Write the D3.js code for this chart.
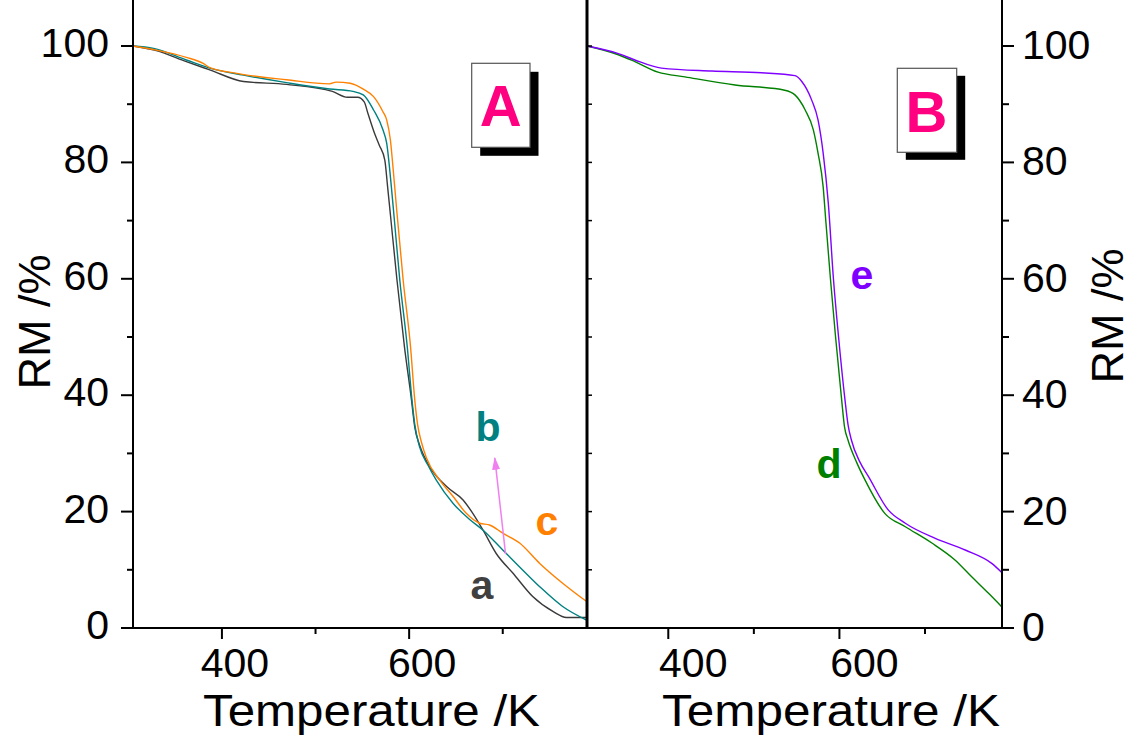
<!DOCTYPE html>
<html><head><meta charset="utf-8">
<script src="https://cdn.jsdelivr.net/npm/d3@7"></script>
<style>body{margin:0;background:#fff}svg{display:block;font-family:"Liberation Sans",Arial,sans-serif}</style>
</head><body>
<script>
// ---- data ----
const tA = [305,330,362,387,423,469,518,534,545,552,556,563,568,574,577,580,587,595,602.5,606,611,616,622,640,657.6,668,679,693,711,732,754,768,789];
const rmA = [100,99.2,97.3,95.9,93.9,93.4,92.2,91.2,91.2,90.4,88.4,85.0,83.0,80.4,75.8,71,59.8,48.3,39.2,34.5,31.5,29.5,27.7,24.3,22.0,19.7,16.8,12.8,9.4,5.4,2.8,1.8,1.8];
const tB = [305,327,362,387,423,469,515,540,551,562,572,576,581,584,590,598,603,606,611,620,629,647,665,679,700,718,739.5,764,789];
const rmB = [100,99.6,97.6,96.2,95.0,93.7,92.6,92.2,91.6,89.0,85.6,83.3,75.8,70.5,59.8,48.3,39.2,35,31.2,28,25.4,21.4,18.6,16.8,13.4,10.5,7.1,3.7,1.4];
const tC = [305,330,362,380,387,416,469,515,522,537,551,562,572,576,580,583,587,593.6,601.5,606,609,613,618.5,632.7,647,661,675.4,686,700,718,739.5,764,790];
const rmC = [100,99.3,98.05,97.0,96.3,95.3,94.2,93.5,93.8,93.6,92.6,91.3,88.7,87.3,83.8,78.7,71.3,59.8,48.3,39.2,35,32,29.2,25.4,22.6,19.7,18.0,17.7,16.3,14.6,11.1,7.7,4.5];
const tD = [305,341.6,361,388,419.5,478,536,548,560,569.5,575,581,584,589.5,595.5,602.6,606,610,620,630,653,677,708,735,754.6,774,790];
const rmD = [100,98.5,97.3,95.5,94.7,93.3,92.4,91.6,89.0,85.6,81.6,75.8,70.1,60,50,39.2,34.5,32.3,28.5,25.4,19.7,17.4,14.6,11.7,8.8,6.0,3.6];
const tE = [305,341.6,361,392,451,509,548,556,567.6,575,581,587,593,599,606.5,610,614,624,634,657,677,712,747,778,790];
const rmE = [100,98.7,97.6,96.2,95.7,95.4,94.9,93.9,90.7,87.3,81.6,73.0,60,50,39.2,35,32.3,28.5,26.0,20.3,18.0,15.4,13.4,11.1,9.5];
const seriesNames = ["a","b","c","d","e"];
const seriesColors = ["#3a3a3a","#008080","#ff8000","#008000","#8000ff"];
const xTicks = [400,600];
const xMinorTicks = [500,700];
const yTicks = [0,20,40,60,80,100];
const yMinorTicks = [10,30,50,70,90];
const xDomain = [305,790];
const yDomain = [0,100];

// ---- layout ----
const W=1133,H=736;
const svg=d3.select("body").append("svg").attr("width",W).attr("height",H);
const y=d3.scaleLinear().domain(yDomain).range([628,46]);
const xA=d3.scaleLinear().domain(xDomain).range([133,587]);
const xB=d3.scaleLinear().domain(xDomain).range([587,1002]);
const yTop=0, yBot=628;

function drawLine(xs, ts, vals, color){
  const pts=ts.map((t,i)=>[t,vals[i]]);
  svg.append("path").datum(pts)
    .attr("fill","none").attr("stroke",color).attr("stroke-width",1.4)
    .attr("d",d3.line().x(d=>xs(d[0])).y(d=>y(d[1])).curve(d3.curveMonotoneX));
}
drawLine(xA,tA,rmA,seriesColors[0]);
drawLine(xA,tB,rmB,seriesColors[1]);
drawLine(xA,tC,rmC,seriesColors[2]);
drawLine(xB,tD,rmD,seriesColors[3]);
drawLine(xB,tE,rmE,seriesColors[4]);

// axes lines
const ax=svg.append("g").attr("stroke","#000").attr("fill","none");
ax.append("line").attr("x1",133).attr("x2",133).attr("y1",yTop).attr("y2",yBot+1).attr("stroke-width",2);
ax.append("line").attr("x1",587).attr("x2",587).attr("y1",yTop).attr("y2",yBot+1).attr("stroke-width",3);
ax.append("line").attr("x1",1002).attr("x2",1002).attr("y1",yTop).attr("y2",yBot+1).attr("stroke-width",2);
ax.append("line").attr("x1",132).attr("x2",1003).attr("y1",yBot).attr("y2",yBot).attr("stroke-width",2);

// y ticks
yTicks.forEach(v=>{
  ax.append("line").attr("x1",121).attr("x2",133).attr("y1",y(v)).attr("y2",y(v)).attr("stroke-width",2);
  ax.append("line").attr("x1",1002).attr("x2",1014).attr("y1",y(v)).attr("y2",y(v)).attr("stroke-width",2);
  ax.append("line").attr("x1",587).attr("x2",592).attr("y1",y(v)).attr("y2",y(v)).attr("stroke-width",1.5);
  svg.append("text").attr("x",109).attr("y",y(v)+11).attr("text-anchor","end").attr("font-size",41).text(v);
  svg.append("text").attr("x",1022).attr("y",y(v)+13).attr("text-anchor","start").attr("font-size",41).text(v);
});
yMinorTicks.forEach(v=>{
  ax.append("line").attr("x1",127).attr("x2",133).attr("y1",y(v)).attr("y2",y(v)).attr("stroke-width",2);
  ax.append("line").attr("x1",1002).attr("x2",1009).attr("y1",y(v)).attr("y2",y(v)).attr("stroke-width",2);
  ax.append("line").attr("x1",587).attr("x2",592).attr("y1",y(v)).attr("y2",y(v)).attr("stroke-width",1.5);
});
// x ticks
[[xA,13],[xB,25]].forEach(([xs,off])=>{
  xTicks.forEach(v=>{
    ax.append("line").attr("x1",xs(v)).attr("x2",xs(v)).attr("y1",yBot).attr("y2",yBot+11).attr("stroke-width",2);
    svg.append("text").attr("x",xs(v)+off).attr("y",677).attr("text-anchor","middle").attr("font-size",41).text(v);
  });
  xMinorTicks.forEach(v=>{
    ax.append("line").attr("x1",xs(v)).attr("x2",xs(v)).attr("y1",yBot).attr("y2",yBot+6).attr("stroke-width",2);
  });
});
// axis titles
svg.append("text").attr("x",203).attr("y",726).attr("font-size",44).attr("textLength",337).attr("lengthAdjust","spacingAndGlyphs").text("Temperature /K");
svg.append("text").attr("x",662).attr("y",726).attr("font-size",44).attr("textLength",338).attr("lengthAdjust","spacingAndGlyphs").text("Temperature /K");
svg.append("text").attr("transform","translate(50,322) rotate(-90)").attr("text-anchor","middle").attr("font-size",45).text("RM /%");
svg.append("text").attr("transform","translate(1123,316) rotate(-90)").attr("text-anchor","middle").attr("font-size",45).text("RM /%");

// panel boxes
function panelBox(x0,y0,w,h,dx,dy,letter,bx,by){
  svg.append("rect").attr("x",x0+dx).attr("y",y0+dy).attr("width",w).attr("height",h).attr("fill","#000");
  svg.append("rect").attr("x",x0).attr("y",y0).attr("width",w).attr("height",h).attr("fill","#fff").attr("stroke","#555").attr("stroke-width",1.2);
  svg.append("text").attr("x",bx).attr("y",by).attr("text-anchor","middle").attr("font-size",58).attr("font-weight","bold").attr("fill","#ff0080").text(letter);
}
panelBox(471.7,63.3,58.3,84,8.5,8.5,"A",500.8,126);
panelBox(897.3,68.3,59.4,84,8.5,7.5,"B",926.5,131.7);

// series labels
const labelPos=[[482,599],[488,441],[547,535],[829,478],[862,289]];
seriesNames.forEach((n,i)=>{
  const p=labelPos[i];
  svg.append("text").attr("x",p[0]).attr("y",p[1]).attr("text-anchor","middle").attr("font-size",41).attr("font-weight","bold").attr("fill",i===0?"#404040":seriesColors[i]).text(n);
});

// arrow
const defs=svg.append("defs");
defs.append("marker").attr("id","ah").attr("viewBox","0 0 10 10").attr("refX",9).attr("refY",5)
  .attr("markerWidth",13).attr("markerHeight",8).attr("preserveAspectRatio","none").attr("markerUnits","userSpaceOnUse").attr("orient","auto")
  .append("path").attr("d","M0,0 L10,5 L0,10 Z").attr("fill","#f080f0");
svg.append("line").attr("x1",xA(703)).attr("y1",y(12.7)).attr("x2",xA(691.5)).attr("y2",y(29.2))
  .attr("stroke","#f080f0").attr("stroke-width",1.5).attr("marker-end","url(#ah)");
</script>
</body></html>
